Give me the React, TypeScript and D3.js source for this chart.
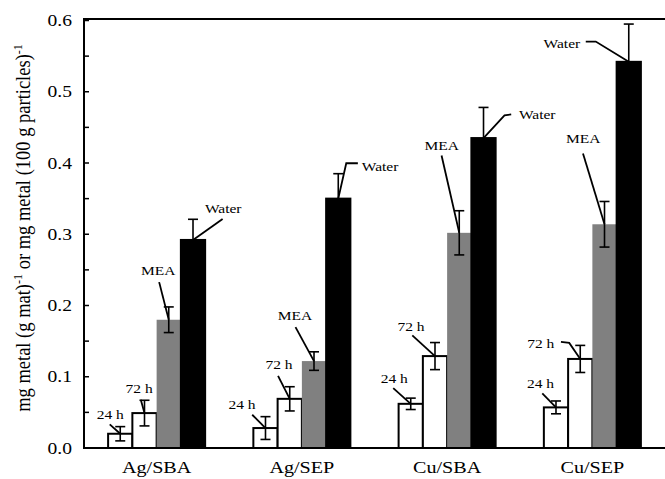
import React from "react";
import * as d3 from "d3";

const categories = ["Ag/SBA", "Ag/SEP", "Cu/SBA", "Cu/SEP"];
const seriesNames = ["24 h", "72 h", "MEA", "Water"];
const values24 = [0.02, 0.028, 0.062, 0.057];
const err24 = [0.01, 0.016, 0.008, 0.009];
const values72 = [0.049, 0.069, 0.129, 0.125];
const err72 = [0.018, 0.017, 0.019, 0.019];
const valuesMEA = [0.18, 0.122, 0.302, 0.314];
const errMEA = [0.018, 0.013, 0.031, 0.032];
const valuesWater = [0.292, 0.35, 0.435, 0.542];
const errWater = [0.029, 0.035, 0.043, 0.053];
const yTicks = [0, 0.1, 0.2, 0.3, 0.4, 0.5, 0.6];

const seriesValues = [values24, values72, valuesMEA, valuesWater];
const seriesErrors = [err24, err72, errMEA, errWater];

// layout: annotation offsets (px) relative to bar top centre: text centre, line start, optional elbow
type Ann = { t: [number, number]; s: [number, number]; e?: [number, number] };
const annLayout: Ann[][] = [
  [
    { t: [-10, -19], s: [-10.5, -9.3] },
    { t: [-5.4, -24.3], s: [-3.7, -13.3] },
    { t: [-10.6, -49.3], s: [-9.6, -37.6] },
    { t: [30.2, -31.7], s: [29.6, -21] },
  ],
  [
    { t: [-23.5, -23.3], s: [-13.3, -13.3] },
    { t: [-10.7, -34], s: [-11.7, -23] },
    { t: [-19, -45.7], s: [-18.5, -34] },
    { t: [41.8, -32.7], s: [19.6, -35.4], e: [8, -35.4] },
  ],
  [
    { t: [-16.5, -25.7], s: [-17.5, -15.7] },
    { t: [-24, -29.7], s: [-22.7, -20.7] },
    { t: [-17.5, -87.3], s: [-17.7, -77.3] },
    { t: [53.7, -23.7], s: [27.7, -23.7], e: [21, -22.7] },
  ],
  [
    { t: [-15.5, -24], s: [-13.7, -14] },
    { t: [-39.5, -15.4], s: [-19.3, -17], e: [-11, -16] },
    { t: [-21.3, -85.7], s: [-21.5, -70.7] },
    { t: [-66.9, -18.3], s: [-43, -20.3], e: [-33, -20.3] },
  ],
];

const fills = ["#ffffff", "#ffffff", "#808080", "#000000"];
const W = 665;
const H = 479;
const left = 84;
const right = 665;
const top = 20.5;
const bottom = 448;
const SX = 1.15;
const FONT = "Liberation Serif";
const tstyle: React.CSSProperties = { fontFamily: FONT };

export default function App() {
  const x = d3
    .scaleBand<string>()
    .domain(categories)
    .range([left, right])
    .paddingInner(0.332)
    .paddingOuter(0.166);
  const xs = d3
    .scaleBand<string>()
    .domain(seriesNames)
    .range([0, x.bandwidth()])
    .padding(0);
  const y = d3.scaleLinear().domain([0, 0.6]).range([bottom, top]);
  const minor = d3.range(0, 0.6001, 0.05);

  return (
    <svg
      width={W}
      height={H}
      style={{ position: "absolute", left: 0, top: 0, background: "#fff" }}
    >
      {/* bars */}
      {categories.map((c, ci) =>
        seriesNames.map((s, si) => {
          const v = seriesValues[si][ci];
          const bx = (x(c) as number) + (xs(s) as number);
          const bw = xs.bandwidth();
          return (
            <rect
              key={c + s}
              x={bx}
              y={y(v)}
              width={bw}
              height={bottom - y(v)}
              fill={fills[si]}
              stroke={si === 2 ? "none" : "#000"}
              strokeWidth={2}
            />
          );
        })
      )}
      {/* error bars */}
      {categories.map((c, ci) =>
        seriesNames.map((s, si) => {
          const v = seriesValues[si][ci];
          const e = seriesErrors[si][ci];
          const cx = (x(c) as number) + (xs(s) as number) + xs.bandwidth() / 2;
          const y1 = y(v + e);
          const y0 = si === 3 ? y(v) : y(v - e);
          return (
            <g key={"e" + c + s} stroke="#000" strokeWidth={1.6}>
              <line x1={cx} x2={cx} y1={y1} y2={y0} />
              <line x1={cx - 5} x2={cx + 5} y1={y1} y2={y1} />
              {si !== 3 && <line x1={cx - 5} x2={cx + 5} y1={y0} y2={y0} />}
            </g>
          );
        })
      )}
      {/* annotations */}
      {categories.map((c, ci) =>
        seriesNames.map((s, si) => {
          const v = seriesValues[si][ci];
          const cx = (x(c) as number) + (xs(s) as number) + xs.bandwidth() / 2;
          const cy = y(v);
          const a = annLayout[ci][si];
          const pts: [number, number][] = [[cx + a.s[0], cy + a.s[1]]];
          if (a.e) pts.push([cx + a.e[0], cy + a.e[1]]);
          pts.push([cx, cy]);
          const line = d3.line()(pts) as string;
          return (
            <g key={"a" + c + s}>
              <path d={line} fill="none" stroke="#000" strokeWidth={1.8} />
              <text
                transform={`translate(${cx + a.t[0]},${cy + a.t[1]}) scale(${SX},1)`}
                textAnchor="middle"
                dominantBaseline="central"
                fontSize={13.5}
                fill="#000"
                style={tstyle}
              >
                {s}
              </text>
            </g>
          );
        })
      )}
      {/* axes frame */}
      <line x1={left} x2={left} y1={top - 1} y2={bottom} stroke="#000" strokeWidth={2} />
      <line x1={left - 1} x2={right} y1={bottom} y2={bottom} stroke="#000" strokeWidth={2} />
      <line x1={left - 1} x2={right} y1={top - 1.5} y2={top - 1.5} stroke="#000" strokeWidth={2} />
      {minor.map((t) => (
        <line key={"t" + t} x1={left} x2={left + 5} y1={y(t)} y2={y(t)} stroke="#000" strokeWidth={1.5} />
      ))}
      {yTicks.map((t) => (
        <text
          key={"l" + t}
          transform={`translate(72,${y(t)}) scale(${SX},1)`}
          textAnchor="end"
          dominantBaseline="central"
          fontSize={17}
          fill="#000"
          style={tstyle}
        >
          {t.toFixed(1)}
        </text>
      ))}
      {categories.map((c) => (
        <text
          key={"c" + c}
          transform={`translate(${(x(c) as number) + x.bandwidth() / 2},473) scale(${SX},1)`}
          textAnchor="middle"
          fontSize={17.5}
          fill="#000"
          style={tstyle}
        >
          {c}
        </text>
      ))}
      <text
        transform={`translate(30,228) rotate(-90) scale(1,1.1)`}
        textAnchor="middle"
        fontSize={18.5}
        fill="#000"
        style={tstyle}
      >
        mg metal (g mat)
        <tspan dy={-7} fontSize={12}>-1</tspan>
        <tspan dy={7}> or mg metal (100 g particles)</tspan>
        <tspan dy={-7} fontSize={12}>-1</tspan>
      </text>
    </svg>
  );
}
